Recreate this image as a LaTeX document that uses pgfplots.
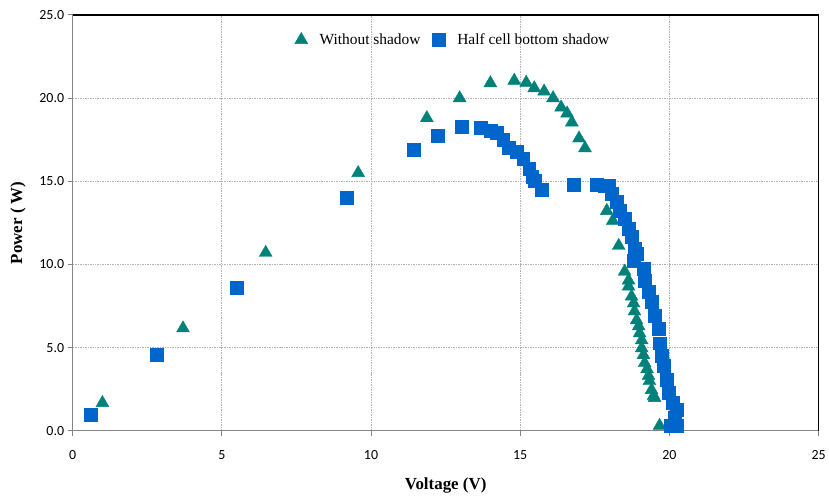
\documentclass[border=0pt]{standalone}
\usepackage{fontspec}
\setmainfont{Liberation Serif}
\newfontfamily\carlito{Carlito}
\usepackage{pgfplots}
\pgfplotsset{compat=1.18}
\definecolor{teal1}{RGB}{0,130,122}
\definecolor{blue1}{RGB}{0,102,204}
\definecolor{axgray}{RGB}{134,134,134}

\begin{document}
\begin{tikzpicture}
\begin{axis}[
  name=ax,
  scale only axis,
  width=750pt, height=418pt,
  xmin=0, xmax=25, ymin=0, ymax=25,
  xtick={0,5,...,25}, ytick={0,5,...,25},
  axis lines=left,
  axis line style={-, axgray, line width=1.3pt},
  tick align=outside,
  major tick length=5pt,
  tick style={axgray, line width=1pt},
  xmajorgrids, ymajorgrids,
  grid style={gray!60, dash pattern=on 1.5pt off 1pt, line width=0.8pt},
  /pgf/number format/assume math mode=true,
  tick label style={font=\fontsize{14}{16}\carlito},
  yticklabel style={/pgf/number format/fixed, /pgf/number format/fixed zerofill, /pgf/number format/precision=1},
  xticklabel style={/pgf/number format/fixed, yshift=-11pt},
  xlabel={\textbf{Voltage (V)}},
  ylabel={\textbf{Power ( W)}},
  label style={font=\fontsize{17}{20}\selectfont},
  xlabel style={at={(axis description cs:0.5,-0.131)}, anchor=center},
  ylabel style={at={(axis description cs:-0.073,0.5)}, anchor=center, rotate=0},
  legend columns=2,
  legend style={draw=none, fill=none, at={(axis description cs:0.51,0.94)}, anchor=center,
    font=\fontsize{15.5}{18}\selectfont, column sep=10pt},
  legend cell align=left,
  clip=false,
]
\addplot[only marks, mark=triangle*, mark size=7.5pt, color=teal1] coordinates {
(1.0,1.67) (3.7,6.16) (6.47,10.7) (9.57,15.5) (11.87,18.8) (12.97,20.0)
(14.0,20.9) (14.8,21.05) (15.2,20.93) (15.47,20.6) (15.8,20.4) (16.1,20.0)
(16.37,19.44) (16.57,19.08) (16.73,18.54) (16.97,17.58) (17.17,16.99)
(17.9,13.22) (18.1,12.62) (18.3,11.12) (18.5,9.57) (18.63,9.03) (18.63,8.67)
(18.73,8.07) (18.8,7.66) (18.83,7.18) (18.9,6.64) (18.97,6.28) (19.0,5.86)
(19.07,5.44) (19.07,4.96) (19.13,4.55) (19.17,4.07) (19.25,3.7) (19.3,3.3)
(19.33,2.99) (19.4,2.45) (19.47,2.1) (19.5,1.97) (19.67,0.3)
};
\addlegendentry{Without shadow}
\addplot[only marks, mark=square*, mark size=6.5pt, color=blue1] coordinates {
(0.6,0.96) (2.83,4.55) (5.5,8.6) (9.2,14.0) (11.43,16.87) (12.23,17.76)
(13.03,18.3) (13.67,18.24) (14.0,18.06) (14.2,17.94) (14.43,17.52) (14.6,16.99)
(14.87,16.75) (15.1,16.33) (15.3,15.73) (15.4,15.25) (15.5,15.01) (15.73,14.47)
(16.8,14.77) (17.57,14.8) (17.83,14.71) (17.97,14.71) (18.07,14.23) (18.23,13.76)
(18.33,13.22) (18.5,12.74) (18.63,12.14) (18.73,11.66) (18.83,10.94) (18.9,10.65)
(18.8,10.23) (19.13,9.75) (19.17,9.03) (19.3,8.37) (19.4,7.78) (19.5,6.94)
(19.63,6.16) (19.67,5.26) (19.73,4.49) (19.8,3.89) (19.9,3.05) (19.97,2.27)
(20.1,1.67) (20.23,1.26) (20.17,0.78) (20.03,0.3) (20.23,0.3)
};
\addlegendentry{Half cell bottom shadow}
\draw[black, line width=1.2pt] (rel axis cs:0,1) -- (rel axis cs:1,1) -- (rel axis cs:1,0);
\coordinate (bl) at (rel axis cs:0,0);
\coordinate (tr) at (rel axis cs:1,1);
\end{axis}
\path ([shift={(-73pt,-67pt)}]bl) rectangle ([shift={(6pt,15pt)}]tr);
\end{tikzpicture}
\end{document}
